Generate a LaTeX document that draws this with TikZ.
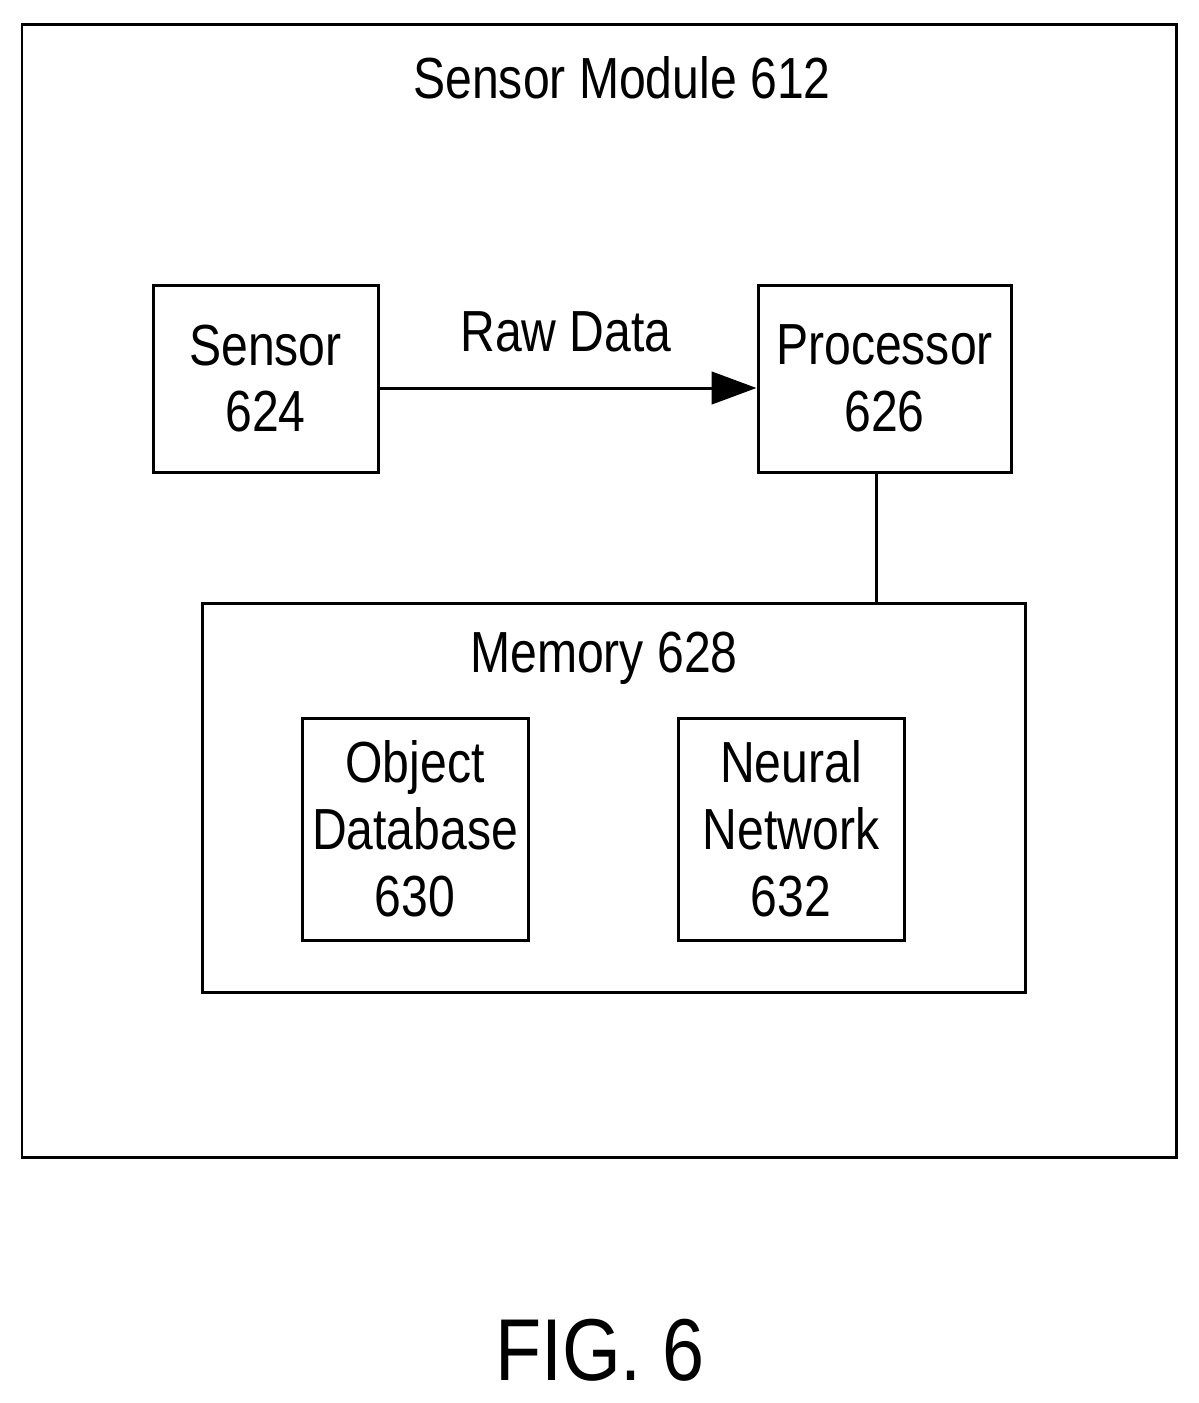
\documentclass[tikz,border=0pt]{standalone}
\usepackage{fontspec}
\setmainfont{Liberation Sans}[FakeStretch=0.83]
\usetikzlibrary{arrows.meta}
\begin{document}
\begin{tikzpicture}[x=0.02cm,y=-0.02cm,
  box/.style={draw,line width=0.06cm,inner sep=0,align=center,font=\fontsize{33}{38}\selectfont},
  lbl/.style={font=\fontsize{33}{38}\selectfont,inner sep=0}]
\useasboundingbox (0,0) rectangle (1198,1403);
\node[draw,line width=0.06cm,minimum width=1154*0.02cm,minimum height=1133*0.02cm] (outer) at (599,590.5) {};
\node[lbl] (title) at (622,78) {Sensor Module 612};
\node[box,minimum width=225*0.02cm,minimum height=187*0.02cm] (sensor) at (265.5,378.5) {Sensor\\624};
\node[box,minimum width=253*0.02cm,minimum height=187*0.02cm] (proc) at (884.5,378.5) {Processor\\626};
\node[box,minimum width=823*0.02cm,minimum height=389*0.02cm] (mem) at (613.5,797.5) {};
\node[lbl] (memlbl) at (604,658) {Memory 628};
\node[box,minimum width=226*0.02cm,minimum height=222*0.02cm] (odb) at (415,829) {Object\\Database\\630};
\node[box,minimum width=226*0.02cm,minimum height=222*0.02cm] (nn) at (791,829) {Neural\\Network\\632};
\draw[line width=0.06cm,-{Triangle[length=0.9cm,width=0.65cm]}] (sensor.east |- 0,388) -- (proc.west |- 0,388);
\node[lbl] (raw) at (566,332) {Raw Data};
\draw[line width=0.06cm] (proc.south -| 876,0) -- (mem.north -| 876,0);
\node[font=\fontsize{50}{58}\selectfont\addfontfeature{FakeStretch=0.86},inner sep=0] (fig) at (600,1350) {FIG. 6};
\end{tikzpicture}
\end{document}
